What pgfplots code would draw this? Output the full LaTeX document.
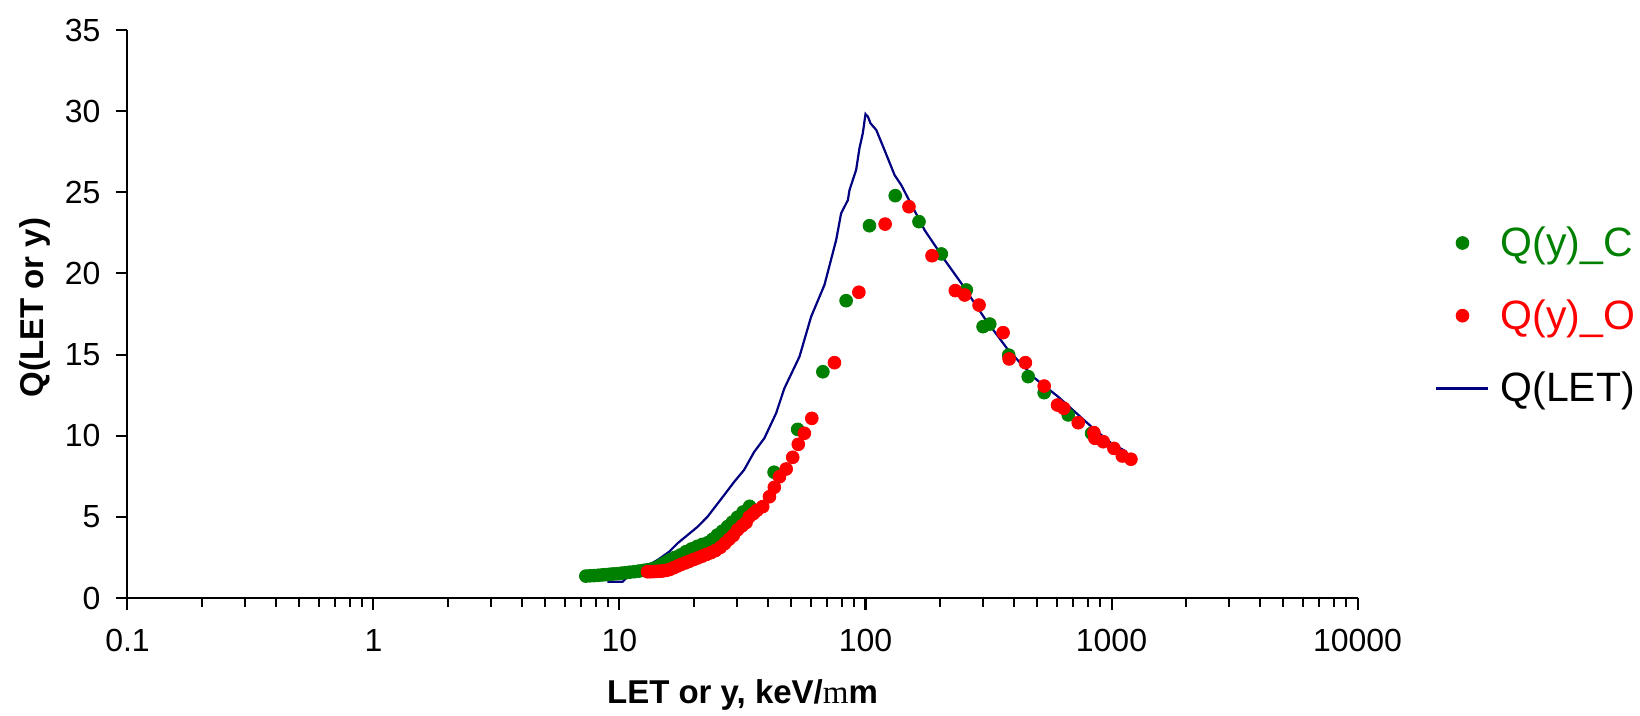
\documentclass[border=0pt]{standalone}
\usepackage{fontspec}
\setmainfont{Liberation Sans}
\newfontfamily\serifm{Liberation Serif}
\usepackage{pgfplots}
\pgfplotsset{compat=1.18}

\definecolor{xlgreen}{HTML}{008000}
\definecolor{xlred}{HTML}{FF0000}
\definecolor{xlnavy}{HTML}{000080}

\begin{document}
\begin{tikzpicture}
\begin{axis}[
    scale only axis,
    width=615pt,
    height=284pt,
    xmode=log,
    xmin=0.1, xmax=10000,
    ymin=0, ymax=35,
    axis lines=left,
    axis line style={-, line width=1pt},
    tick align=outside,
    major tick length=6pt,
    minor tick length=4.5pt,
    tick style={black, line width=1pt},
    xtick={0.1,1,10,100,1000,10000},
    xticklabels={0.1,1,10,100,1000,10000},
    ytick={0,5,...,35},
    /pgf/number format/assume math mode=true,
    tick label style={font=\fontsize{16}{19}\selectfont},
    xticklabel style={yshift=-6pt},
    yticklabel style={xshift=-4pt},
    xlabel={LET or y, keV/{\serifm\mdseries m}m},
    ylabel={Q(LET or y)},
    label style={font=\fontsize{16.5}{20}\selectfont\bfseries},
    xlabel style={at={(axis description cs:0.5,0)}, anchor=base, yshift=-53pt},
    ylabel style={at={(axis description cs:-0.0685,0.511)}, anchor=base},
    legend style={draw=none, fill=none, inner sep=0pt,
        at={(axis description cs:1.063,0.497)}, anchor=west,
        font=\fontsize{20.5}{24}\selectfont,
        row sep=20pt, column sep=5.5pt,
        nodes={inner sep=0pt}},
    legend cell align=left,
    legend image code/.code={\draw[mark repeat=2,mark phase=2,#1]
        plot coordinates {(0pt,0pt) (13pt,0pt) (26pt,0pt)};},
]

% Q(LET)
\addplot[xlnavy, line width=1.1pt, forget plot] coordinates {
(8.93,1.00) (10.3,1.00) (10.8,1.31) (12.2,1.75) (13.2,2.05) (14.28,2.34)
(15.92,2.85) (17.22,3.37) (20.78,4.39) (22.8,5.01) (26.66,6.35) (29.3,7.17)
(32.1,7.89) (35.3,9.01) (38.8,9.84) (43.3,11.38) (46.8,12.92) (53.9,14.87)
(60.1,17.33) (68.1,19.29) (76.0,22.06) (79.6,23.70) (84.8,24.52) (86.1,25.14)
(91.6,26.37) (94.5,27.71) (97.5,28.63) (100,29.82) (102.3,29.66) (104.8,29.25)
(110.6,28.84) (119.5,27.6) (131.3,26.06) (139.7,25.45) (173.9,22.67)
(209.8,20.83) (245.3,19.39) (305.2,17.23) (380.2,15.28) (487.8,13.54)
(607.2,12.40) (829.3,10.55) (999,9.53) (1152,9.01)
};

% Q(y)_C
\addplot[only marks, mark=*, mark size=3.2pt, xlgreen] coordinates {
(7.3,1.35) (7.6,1.37) (7.9,1.38) (8.2,1.40) (8.5,1.42) (8.8,1.44) (9.1,1.46)
(9.4,1.48) (9.8,1.50) (10.2,1.53) (10.6,1.56) (11.0,1.59) (11.5,1.62)
(12.0,1.66) (12.5,1.70) (13.0,1.74) (13.6,1.80) (14.2,1.90) (14.8,2.05)
(15.4,2.20) (16.0,2.35) (16.8,2.50) (17.7,2.65) (18.6,2.85) (19.6,3.02)
(20.7,3.18) (21.7,3.30) (22.8,3.40) (23.9,3.62) (25.0,3.88) (26.2,4.12)
(27.5,4.40) (28.8,4.68) (30.2,4.98) (31.8,5.30) (33.8,5.65) (42.5,7.75)
(53.0,10.39) (67.1,13.94) (83.4,18.32) (103.8,22.94) (132.1,24.79)
(165.0,23.19) (203.3,21.20) (257.0,18.98) (300.6,16.72) (320,16.88)
(382.2,14.97) (458.5,13.64) (532.5,12.65) (666.9,11.28) (829.9,10.15)
};
\addlegendentry{\textcolor{xlgreen}{Q(y)\_C}}

% Q(y)_O
\addplot[only marks, mark=*, mark size=3.2pt, xlred] coordinates {
(13.0,1.62) (13.4,1.62) (13.8,1.63) (14.2,1.64) (14.6,1.65) (15.0,1.67)
(15.5,1.70) (16.0,1.76) (16.6,1.86) (17.2,1.97) (17.8,2.07) (18.5,2.16)
(19.2,2.26) (20.0,2.37) (20.8,2.47) (21.7,2.58) (22.6,2.69) (23.6,2.80)
(24.6,2.93) (25.7,3.12) (26.8,3.36) (27.9,3.62) (29.0,3.85) (30.2,4.20)
(31.5,4.45) (32.7,4.65) (33.7,5.00) (35.0,5.20) (36.2,5.40) (38.2,5.63)
(40.7,6.24) (42.6,6.82) (44.7,7.47) (47.6,7.95) (50.6,8.67) (53.3,9.47)
(56.4,10.15) (60.5,11.07) (74.8,14.50) (94.0,18.84) (120.2,23.04)
(150.2,24.11) (186.4,21.09) (231.8,18.94) (252.9,18.67) (289.5,18.05)
(362.5,16.35) (383.6,14.73) (446.7,14.50) (532.5,13.06) (603.4,11.89)
(639.8,11.69) (732.4,10.80) (848.0,10.19) (856,9.84) (926.0,9.63)
(1022.8,9.22) (1106.6,8.75) (1199.6,8.55)
};
\addlegendentry{\textcolor{xlred}{Q(y)\_O}}

\addlegendimage{xlnavy, line width=1.1pt}
\addlegendentry{Q(LET)}

\end{axis}
\pgfresetboundingbox
\useasboundingbox (-63.75pt,-59pt) rectangle (756.25pt,299pt);
\end{tikzpicture}
\end{document}
